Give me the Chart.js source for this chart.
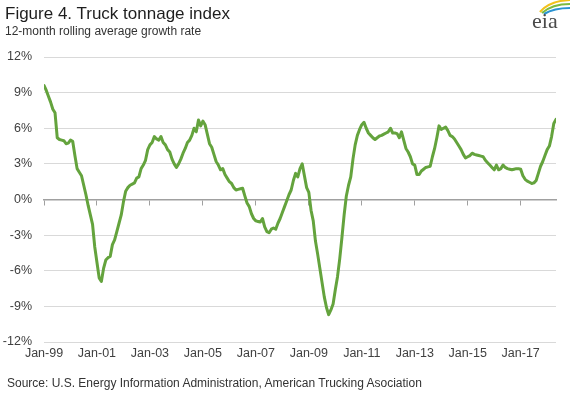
<!DOCTYPE html>
<html><head><meta charset="utf-8">
<script src="https://cdn.jsdelivr.net/npm/chart.js@4/dist/chart.umd.min.js"></script>
<style>
html,body{margin:0;padding:0;background:#fff;}
#wrap{position:relative;width:570px;height:394px;overflow:hidden;font-family:"Liberation Sans",Arial,sans-serif;}
#c{position:absolute;left:0;top:0;width:570px;height:394px;}
.t{position:absolute;white-space:nowrap;}
#title{left:5px;top:4px;font-size:17px;color:#1e1e1e;line-height:20px;}
#sub{left:5px;top:24px;font-size:12px;color:#333;line-height:14px;}
#src{left:7px;top:376px;font-size:12px;color:#333;line-height:14px;}
#logo{position:absolute;left:526px;top:0;}
</style></head>
<body><div id="wrap">
<canvas id="c" width="570" height="394"></canvas>
<div class="t" id="title">Figure 4. Truck tonnage index</div>
<div class="t" id="sub">12-month rolling average growth rate</div>
<div class="t" id="src">Source: U.S. Energy Information Administration, American Trucking Asociation</div>
<svg id="logo" width="44" height="34" viewBox="0 0 44 34">
<path d="M14 12 Q 23 1 44 0" fill="none" stroke="#f2c21b" stroke-width="2.2"/>
<path d="M16 13 Q 26 4 44 4" fill="none" stroke="#7dba3f" stroke-width="2.2"/>
<path d="M18 14 Q 28 8 44 8" fill="none" stroke="#2a93d2" stroke-width="2.2"/>
<text x="6" y="28" font-family="Liberation Serif, DejaVu Serif, serif" font-size="22" fill="#4a4a4a">eia</text>
</svg>
</div>
<script>
// Monthly truck tonnage growth (%, 12-month rolling average), Jan-1999 .. May-2018
const growth = [
 9.6, 9.2, 8.7, 8.2, 7.6, 7.3, 5.2, 5.05, 5.0, 4.95, 4.7, 4.75,
 5.0, 4.9, 3.7, 2.6, 2.3, 2.0, 1.2, 0.4, -0.5, -1.3, -2.1, -4.0,
 -5.3, -6.6, -6.9, -5.8, -5.1, -4.9, -4.8, -3.8, -3.4, -2.7, -2.0, -1.3,
 -0.2, 0.7, 1.0, 1.2, 1.3, 1.4, 1.8, 1.9, 2.6, 2.9, 3.3, 4.2,
 4.6, 4.8, 5.3, 5.1, 5.0, 5.3, 4.8, 4.6, 4.2, 4.0, 3.4, 3.0,
 2.7, 3.0, 3.4, 3.9, 4.3, 4.8, 5.0, 5.4, 6.0, 5.7, 6.7, 6.2,
 6.6, 6.3, 5.5, 4.7, 4.4, 3.8, 3.2, 2.9, 2.5, 2.6, 2.1, 1.8,
 1.5, 1.35, 1.0, 0.8, 0.85, 0.9, 0.95, 0.3, -0.3, -0.6, -1.2, -1.6,
 -1.8, -1.85, -1.9, -1.6, -2.3, -2.7, -2.8, -2.5, -2.4, -2.5, -2.0, -1.6,
 -1.1, -0.6, -0.1, 0.4, 0.8, 1.6, 2.2, 1.9, 2.6, 3.0, 2.0, 1.0,
 0.6, -0.9, -1.8, -3.5, -4.6, -5.8, -7.0, -8.2, -9.1, -9.7, -9.3, -8.8,
 -7.6, -6.5, -5.0, -3.2, -1.3, 0.3, 1.2, 1.9, 3.4, 4.6, 5.4, 5.9,
 6.3, 6.5, 6.0, 5.6, 5.4, 5.2, 5.05, 5.2, 5.35, 5.4, 5.5, 5.6,
 5.7, 6.0, 5.6, 5.6, 5.55, 5.2, 5.7, 5.0, 4.3, 4.0, 3.6, 3.0,
 2.9, 2.1, 2.1, 2.4, 2.55, 2.7, 2.75, 2.8, 3.6, 4.3, 5.2, 6.2,
 5.9, 6.0, 6.1, 5.8, 5.4, 5.3, 5.1, 4.8, 4.5, 4.2, 3.8, 3.5,
 3.6, 3.7, 3.9, 3.8, 3.75, 3.7, 3.65, 3.6, 3.3, 3.1, 2.9, 2.7,
 2.5, 2.9, 2.5, 2.6, 2.9, 2.7, 2.6, 2.55, 2.5, 2.55, 2.6, 2.6,
 2.55, 2.0, 1.7, 1.55, 1.45, 1.35, 1.4, 1.6, 2.2, 2.8, 3.2, 3.7,
 4.2, 4.5, 5.3, 6.4, 6.75
];
const xTickLabels = ['Jan-99','Jan-01','Jan-03','Jan-05','Jan-07','Jan-09','Jan-11','Jan-13','Jan-15','Jan-17'];
const monthsPerLabel = 24;
const yTicks = [-12, -9, -6, -3, 0, 3, 6, 9, 12];

const points = growth.map((v, i) => ({x: i, y: v}));
const lastIdx = growth.length - 1;
const tickFont = {family: '"Liberation Sans", Arial, sans-serif', size: 12.5};
const setTicks = s => { s.ticks = xTickLabels.map((_, i) => ({value: i * monthsPerLabel})); };

new Chart(document.getElementById('c'), {
  type: 'line',
  data: { datasets: [{
    data: points, borderColor: '#64a33d', borderWidth: 3, pointRadius: 0,
    tension: 0, borderJoinStyle: 'round', borderCapStyle: 'round', xAxisID: 'x', yAxisID: 'y'
  }]},
  options: {
    responsive: false, animation: false, devicePixelRatio: 1,
    layout: { padding: { top: 57, right: 14, left: 0, bottom: 0 } },
    plugins: { legend: {display: false}, tooltip: {enabled: false}, title: {display: false} },
    scales: {
      x: {
        type: 'linear', min: 0, max: lastIdx, position: {y: 0},
        grid: { drawOnChartArea: false, drawTicks: true, tickLength: 5, color: '#a0a0a0', lineWidth: 1 },
        border: { color: '#a0a0a0', width: 1.5 },
        ticks: { display: false },
        afterBuildTicks: setTicks
      },
      xl: {
        type: 'linear', axis: 'x', min: 0, max: lastIdx, position: 'bottom',
        grid: { display: false, drawTicks: false }, border: { display: false },
        ticks: { font: tickFont, color: '#404040', padding: 4, maxRotation: 0, autoSkip: false,
                 callback: (v, i) => xTickLabels[i] },
        afterBuildTicks: setTicks,
        afterFit: s => { s.height = 52; }
      },
      y: {
        min: yTicks[0], max: yTicks[yTicks.length - 1],
        grid: { color: '#d9d9d9', drawTicks: false, lineWidth: 1 },
        border: { display: false },
        ticks: { font: tickFont, color: '#404040', padding: 12, callback: v => v + '%' },
        afterBuildTicks: s => { s.ticks = yTicks.map(v => ({value: v})); },
        afterFit: s => { s.width = 44; }
      }
    }
  }
});
</script>
</body></html>
